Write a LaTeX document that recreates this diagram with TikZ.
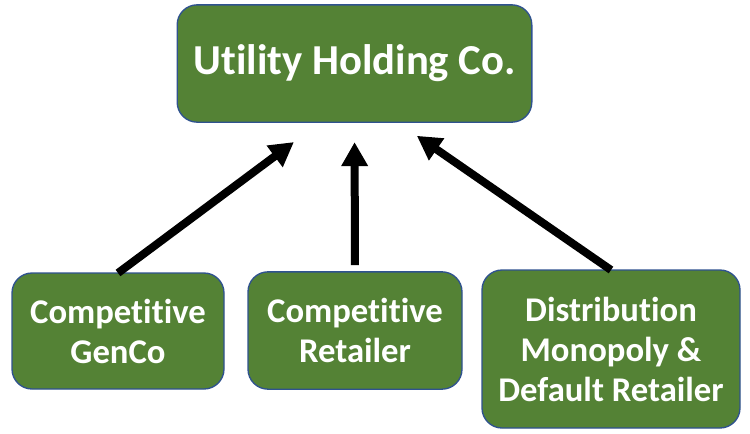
\documentclass[tikz,border=0pt]{standalone}
\usepackage{fontspec}
\setmainfont{Carlito}[Ligatures={NoCommon}]
\usetikzlibrary{arrows.meta}
\definecolor{boxgreen}{HTML}{548235}
\definecolor{boxblue}{HTML}{2F528F}
\begin{document}
\begin{tikzpicture}[x=0.75pt,y=-0.75pt,inner sep=0pt,outer sep=0pt,
orgbox/.style={draw=boxblue,fill=boxgreen,line width=1pt,rounded corners=15pt,
  text=white,font=\bfseries\fontsize{26}{30}\selectfont,align=center},
uparrow/.style={line width=6pt,-{Triangle[length=18pt,width=19pt]}}]
\useasboundingbox (0,0) rectangle (750,433);
\draw (354.5,63.5) node[orgbox,minimum width=266pt,minimum height=88pt,
  font=\bfseries\fontsize{32}{38}\selectfont] (holding) {Utility Holding Co.};
\draw (118,331) node[orgbox,minimum width=159pt,minimum height=87pt] (genco) {Competitive\\GenCo};
\draw (355,330.5) node[orgbox,minimum width=160.5pt,minimum height=88pt] (retail) {Competitive\\Retailer};
\draw (611,349) node[orgbox,minimum width=193.5pt,minimum height=118.5pt] (disco) {Distribution\\Monopoly \&\\Default Retailer};
\draw[uparrow,shorten >=25pt] (genco.north) -- (holding.240);
\draw[uparrow,shorten <=5pt,shorten >=15pt] (retail.north) -- (holding.south);
\draw[uparrow,shorten >=18pt] (disco.north) -- (holding.306);
\end{tikzpicture}
\end{document}
